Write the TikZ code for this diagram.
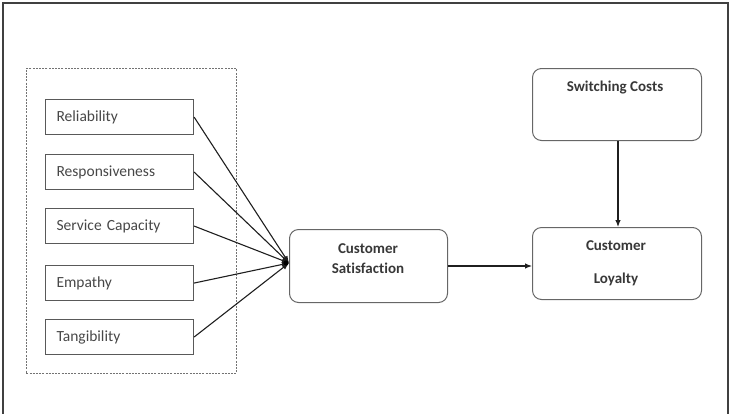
\documentclass[tikz,border=0pt]{standalone}
\usepackage{fontspec}
\setmainfont{Carlito}[Ligatures=NoCommon]
\usetikzlibrary{arrows.meta}
\begin{document}
\begin{tikzpicture}[x=1pt,y=-1pt,
  dim/.style={draw=black!65,line width=1.1pt},
  factor/.style={dim,minimum width=148pt,minimum height=35pt,anchor=north west,
    text=black!72,font=\fontsize{15.5}{18}\selectfont,align=left,text width=148pt,inner sep=0pt},
  rbox/.style={draw=black!60,line width=1pt,rounded corners=9pt,anchor=north west,inner sep=0pt},
  boxtext/.style={text=black!78,font=\bfseries\fontsize{15}{18}\selectfont,align=center,inner sep=0pt},
  link/.style={draw=black!88,line width=1.1pt,-{Latex[length=7pt,width=5.5pt]}}]
\useasboundingbox (0,0) rectangle (735,413);
% outer frame (runs past the lower edge)
\draw[black!75,line width=2pt] (3,416) -- (3,3) -- (728,3) -- (728,416);
% dashed grouping box
\node[draw=black!55,dash pattern=on 2pt off 1.2pt,line width=0.6pt,minimum width=210pt,minimum height=305pt,anchor=north west] (group) at (26,68) {};
% service quality factors
\node[factor] (rel) at (45,99) {\hspace*{11pt}Reliability};
\node[factor] (res) at (45,154) {\hspace*{11pt}Responsiveness};
\node[factor] (cap) at (45,208) {\hspace*{11pt}Service Capacity};
\node[factor] (emp) at (45,265) {\hspace*{11pt}Empathy};
\node[factor] (tan) at (45,319) {\hspace*{11pt}Tangibility};
% outcome boxes and their labels
\node[rbox,minimum width=158pt,minimum height=73pt] (sat) at (289,229) {};
\node[boxtext] (satl) at (368,259) {Customer\\[2pt]Satisfaction};
\node[rbox,minimum width=169pt,minimum height=72pt] (sw) at (532,68) {};
\node[boxtext] (swl) at (615,88) {Switching Costs};
\node[rbox,minimum width=169pt,minimum height=72pt] (loy) at (532,227) {};
\node[boxtext] (loyl) at (616,263) {Customer\\[15pt]Loyalty};
% convergence point
\coordinate (hub) at (289,263);
\draw[link] (rel.east) -- (hub);
\draw[link] (res.east) -- (hub);
\draw[link] (cap.east) -- (hub);
\draw[link] (emp.east) -- (hub);
\draw[link] (tan.east) -- (hub);
\fill[black] (hub) ++(-3,0) circle (2.6pt);
\draw[link] (sat.east) -- (sat.east -| loy.west);
\draw[link] (sw.south -| 618,0) -- (loy.north -| 618,0);
\end{tikzpicture}
\end{document}
